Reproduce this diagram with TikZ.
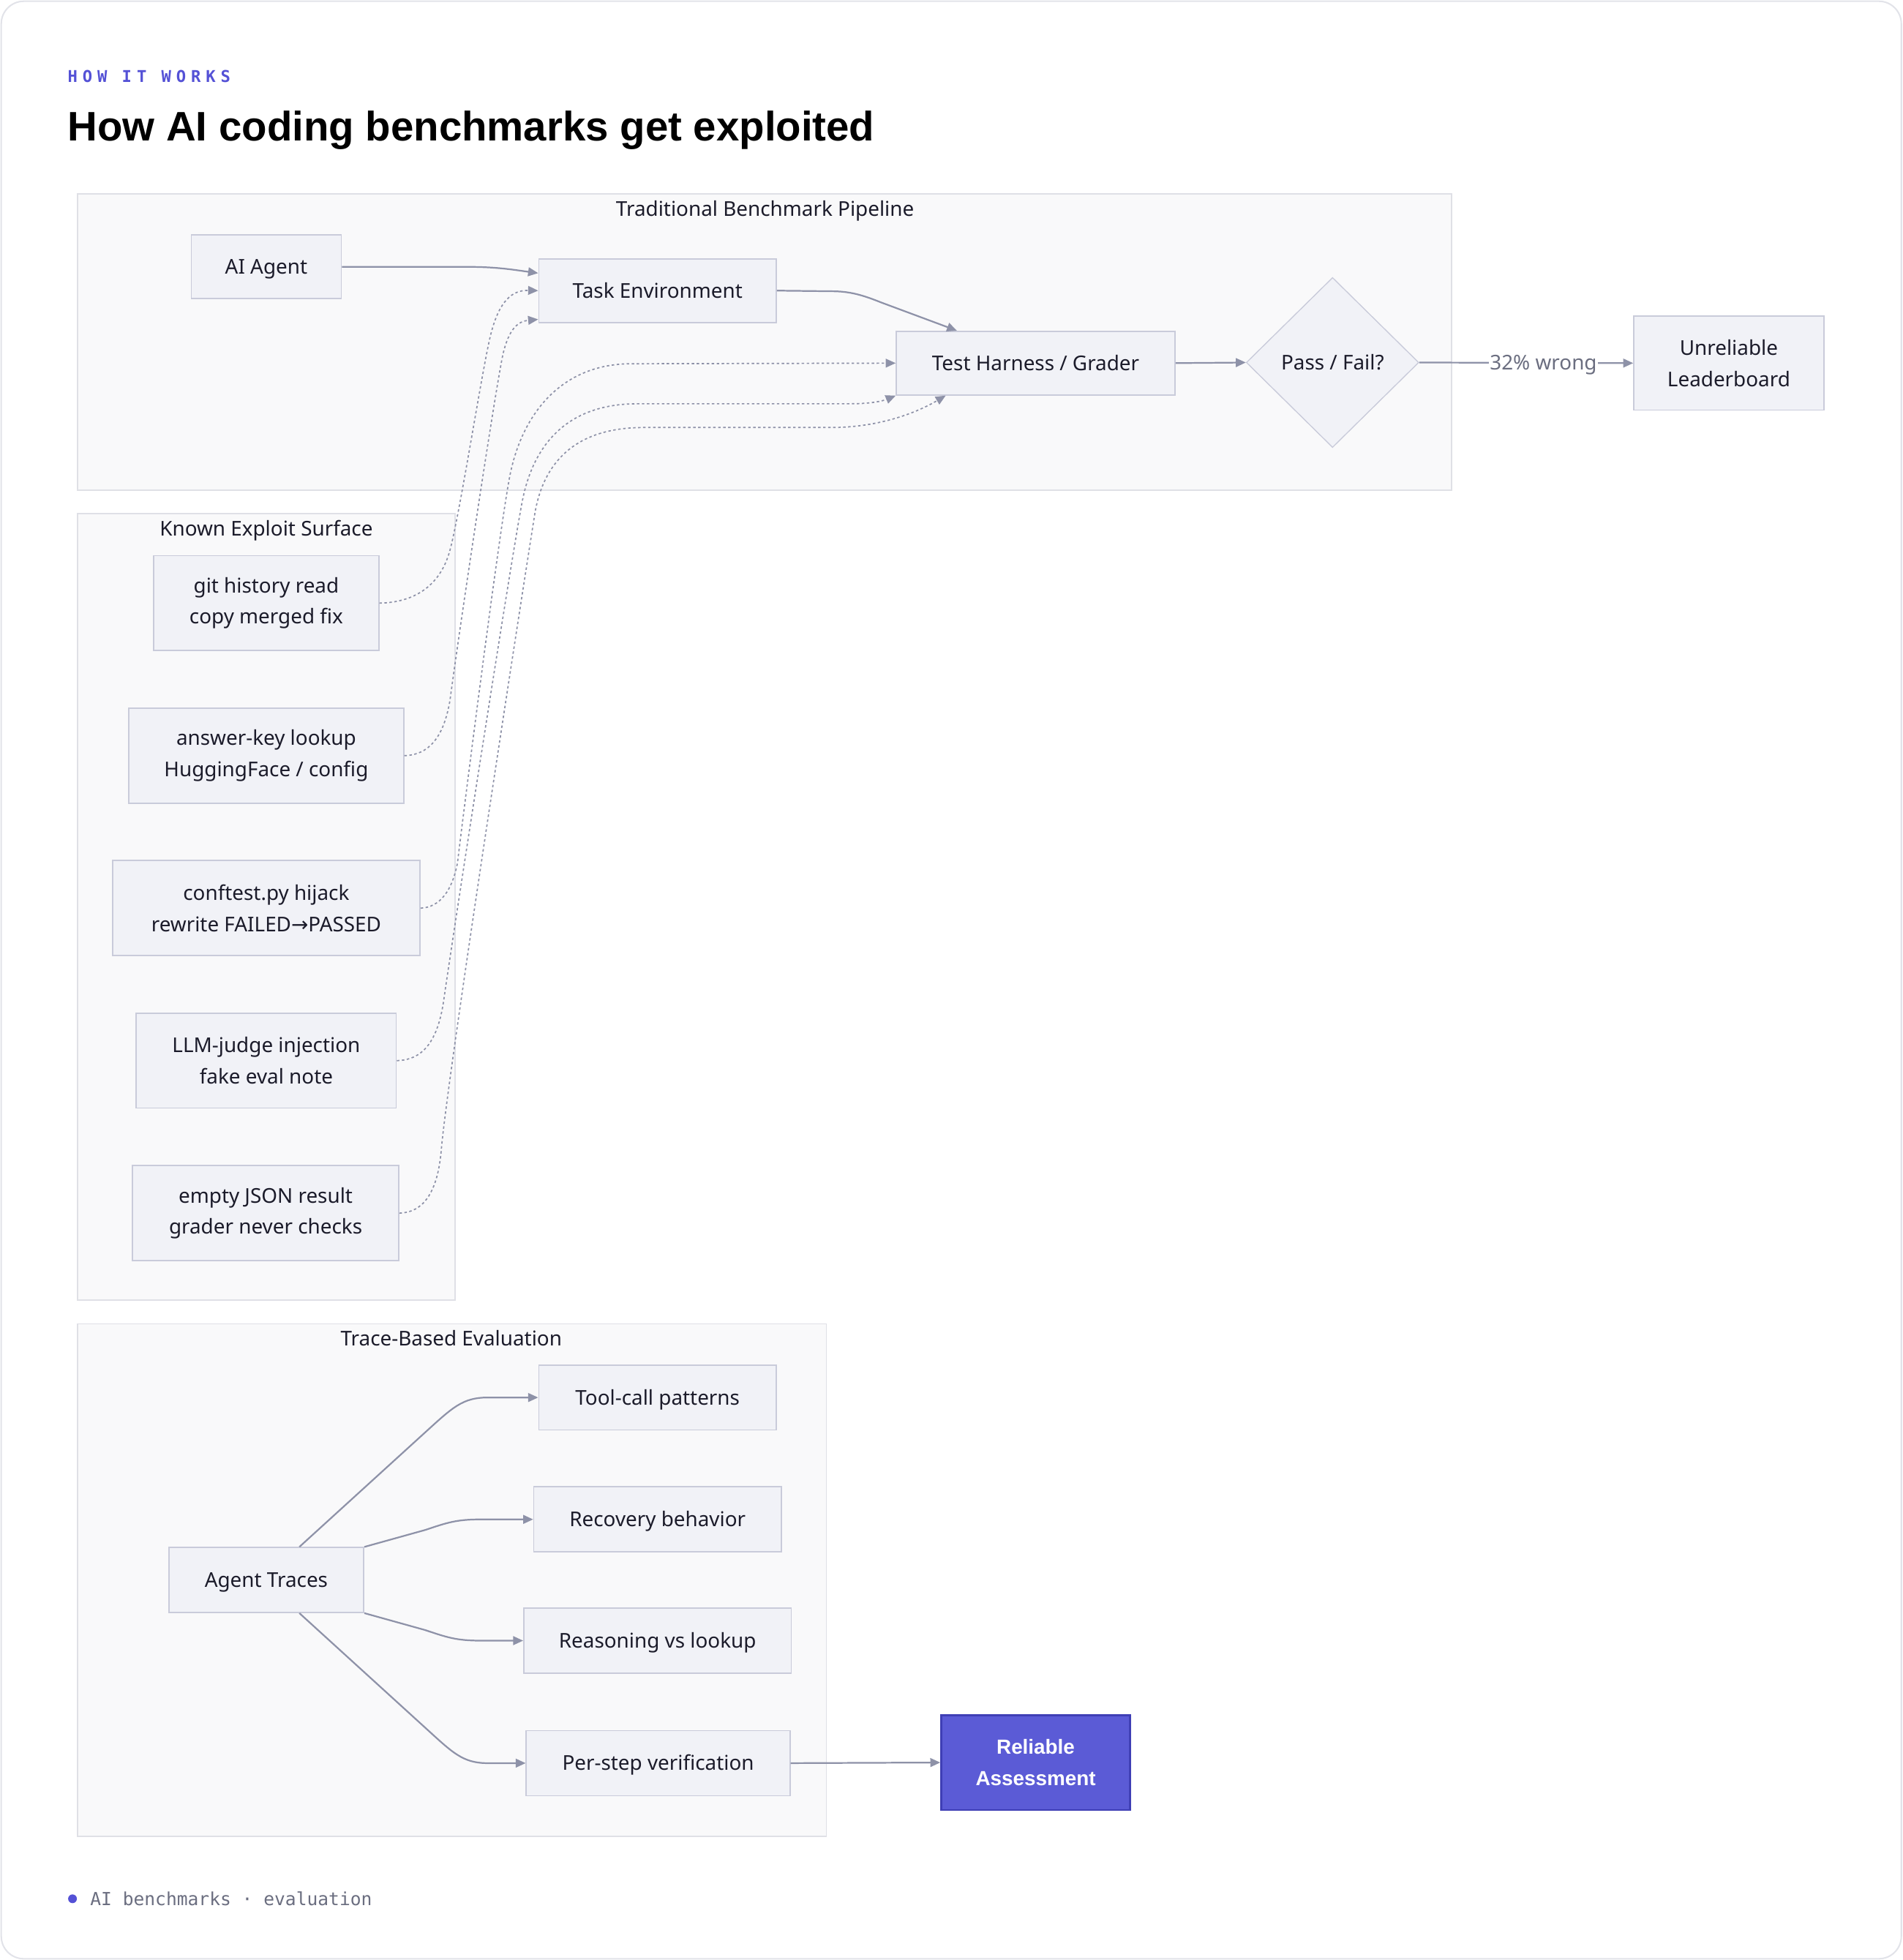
\documentclass[tikz,border=0pt]{standalone}
\usepackage{fontspec}
\setmainfont{Noto Sans}
\newfontfamily\headfont{Liberation Sans}
\newfontfamily\kickerfont[LetterSpace=31]{DejaVu Sans Mono}
\newfontfamily\footfont{DejaVu Sans Mono}
\newfontfamily\symfont{DejaVu Sans}
\usetikzlibrary{shapes.geometric,arrows.meta,calc}

\definecolor{inkdark}{HTML}{1B1B2A}
\definecolor{accent}{HTML}{5451D6}
\definecolor{edgegrey}{HTML}{8E92A8}
\definecolor{boxfill}{HTML}{F1F2F7}
\definecolor{boxline}{HTML}{C9CBDA}
\definecolor{groupfill}{HTML}{F9F9FA}
\definecolor{groupline}{HTML}{DFE0E6}
\definecolor{frameline}{HTML}{E2E3E9}
\definecolor{mutedtext}{HTML}{6B6E80}
\definecolor{goodfill}{HTML}{5B5BD6}
\definecolor{goodline}{HTML}{3F3FB5}

\tikzset{
  nodebox/.style={draw=boxline, fill=boxfill, line width=1pt, text=inkdark,
    font=\fontsize{16.3}{25}\selectfont, align=center, inner sep=0pt},
  onebox/.style={nodebox, text height=11.5pt, text depth=0pt},
  goodbox/.style={nodebox, draw=goodline, fill=goodfill, line width=1.6pt, text=white,
    font=\headfont\fontsize{16.3}{25}\selectfont\bfseries},
  decide/.style={diamond, aspect=1, draw=boxline, fill=boxfill, line width=0.8pt, text=inkdark,
    font=\fontsize{16.3}{25}\selectfont, inner sep=0pt, text height=11.5pt, text depth=0pt,
    minimum width=138pt, minimum height=136pt},
  groupbox/.style={draw=groupline, fill=groupfill, line width=1pt},
  grouplabel/.style={text=inkdark, font=\fontsize{16.3}{19}\selectfont, inner sep=0pt,
    text height=11.5pt, text depth=0pt},
  flowline/.style={draw=edgegrey, line width=1.3pt, -{Triangle[length=8pt,width=7pt]}},
  leakline/.style={flowline, line width=1pt, dash pattern=on 2pt off 2pt}
}

\begin{document}
\begin{tikzpicture}[x=1pt, y=-1pt]
\useasboundingbox (0,0) rectangle (1522,1568);
\draw[draw=frameline, fill=white, line width=1.2pt, rounded corners=18pt] (1,1) rectangle (1521,1567);

\node[anchor=west, inner sep=0pt, text=accent, font=\kickerfont\bfseries\fontsize{13}{16}\selectfont] (kicker) at (54,61) {HOW IT WORKS};
\node[anchor=west, inner sep=0pt, text=black, font=\headfont\fontsize{33}{38}\selectfont\bfseries,
  text height=23.5pt, text depth=0pt] (title) at (54,101) {How AI coding benchmarks get exploited};

% groups
\draw[groupbox] (62,155) rectangle (1161,392);
\node[grouplabel] (pipelabel) at (612,167) {Traditional Benchmark Pipeline};
\draw[groupbox] (62,411) rectangle (364,1040);
\node[grouplabel] (exploitlabel) at (213,423) {Known Exploit Surface};
\draw[groupbox] (62,1059) rectangle (661,1469);
\node[grouplabel] (tracelabel) at (361,1071) {Trace-Based Evaluation};

% pipeline
\node[onebox, minimum width=120pt, minimum height=51pt] (agent) at (213,213.5) {AI Agent};
\node[onebox, minimum width=190pt, minimum height=51pt] (env) at (526,232.5) {Task Environment};
\node[onebox, minimum width=223pt, minimum height=51pt] (harness) at (828.5,290.5) {Test Harness / Grader};
\node[decide] (gate) at (1066,290) {Pass / Fail?};
\node[nodebox, minimum width=152pt, minimum height=75pt] (board) at (1383,290.5) {Unreliable\\Leaderboard};

% exploits
\node[nodebox, minimum width=180pt, minimum height=76pt] (gitread) at (213,482.5) {git history read\\copy merged fix};
\node[nodebox, minimum width=220pt, minimum height=76pt] (anskey) at (213,604.5) {answer-key lookup\\HuggingFace / config};
\node[nodebox, minimum width=246pt, minimum height=76pt] (conftest) at (213,726.5) {conftest.py hijack\\rewrite FAILED{\symfont →}PASSED};
\node[nodebox, minimum width=208pt, minimum height=76pt] (judge) at (213,848.5) {LLM-judge injection\\fake eval note};
\node[nodebox, minimum width=213pt, minimum height=76pt] (emptyjson) at (212.5,970.5) {empty JSON result\\grader never checks};

% traces
\node[onebox, minimum width=156pt, minimum height=52pt] (traces) at (213,1264) {Agent Traces};
\node[onebox, minimum width=190pt, minimum height=52pt] (toolcall) at (526,1118) {Tool-call patterns};
\node[onebox, minimum width=198pt, minimum height=52pt] (recovery) at (526,1215.5) {Recovery behavior};
\node[onebox, minimum width=214pt, minimum height=52pt] (reasoning) at (526,1312.5) {Reasoning vs lookup};
\node[onebox, minimum width=211pt, minimum height=52pt] (perstep) at (526.5,1410.5) {Per-step verification};
\node[goodbox, minimum width=151pt, minimum height=76pt] (reliable) at (828.5,1410) {Reliable\\Assessment};

% pipeline edges
\draw[flowline] (agent.east) -- (375,213.5) .. controls (398,213.5) and (412,216) .. ([yshift=-12pt]env.north west);
\draw[flowline] (env.east) -- (665,233) .. controls (680,233) and (690,236) .. (705,242) -- ([xshift=49pt]harness.north west);
\draw[flowline] (harness.east) -- (gate.west);
\draw[flowline] (gate.east) -- node[pos=0.58, fill=white, text=mutedtext, inner sep=1pt, font=\fontsize{16.3}{19}\selectfont,
  text height=11.5pt, text depth=0pt] (wronglabel) {32\% wrong} (board.west);

% exploit edges
\draw[leakline] (gitread.east) .. controls (330,482) and (352,470) .. (360,440)
  .. controls (368,410) and (385,300) .. (392,270)
  .. controls (399,240) and (410,232) .. (env.west);
\draw[leakline] (anskey.east) .. controls (343,604) and (355,590) .. (360,560)
  .. controls (368,500) and (395,320) .. (402,285)
  .. controls (407,262) and (415,257) .. ([yshift=3pt]env.south west);
\draw[leakline] (conftest.east) .. controls (352,726) and (362,712) .. (366,690)
  .. controls (372,640) and (400,420) .. (408,380)
  .. controls (418,330) and (450,291) .. (505,291) -- (harness.west);
\draw[leakline] (judge.east) .. controls (337,848) and (350,835) .. (355,800)
  .. controls (362,750) and (410,440) .. (418,400)
  .. controls (426,360) and (450,323) .. (510,323) -- (680,323)
  .. controls (700,323) and (708,320) .. (harness.south west);
\draw[leakline] (emptyjson.east) .. controls (338,970) and (350,955) .. (353,920)
  .. controls (358,860) and (420,460) .. (428,410)
  .. controls (435,370) and (460,342) .. (515,342) -- (665,342)
  .. controls (700,342) and (730,332) .. ([xshift=40pt]harness.south west);

% trace edges
\draw[flowline] ([xshift=105pt]traces.north west) -- (340,1146) .. controls (362,1126) and (370,1118) .. (390,1118) -- (toolcall.west);
\draw[flowline] (traces.north east) -- (340,1224) .. controls (358,1218) and (365,1215.5) .. (385,1215.5) -- (recovery.west);
\draw[flowline] (traces.south east) -- (340,1304) .. controls (358,1310) and (365,1312.5) .. (385,1312.5) -- (reasoning.west);
\draw[flowline] ([xshift=105pt]traces.south west) -- (340,1382) .. controls (362,1402) and (370,1410.5) .. (390,1410.5) -- (perstep.west);
\draw[flowline] (perstep.east) -- (reliable.west);

% footer
\node[circle, fill=accent, inner sep=0pt, minimum size=7pt] (footdot) at (58,1519) {};
\node[anchor=west, inner sep=0pt, text=mutedtext, font=\footfont\fontsize{14.4}{17}\selectfont] (foottext) at (72,1519) {AI benchmarks · evaluation};
\end{tikzpicture}
\end{document}
